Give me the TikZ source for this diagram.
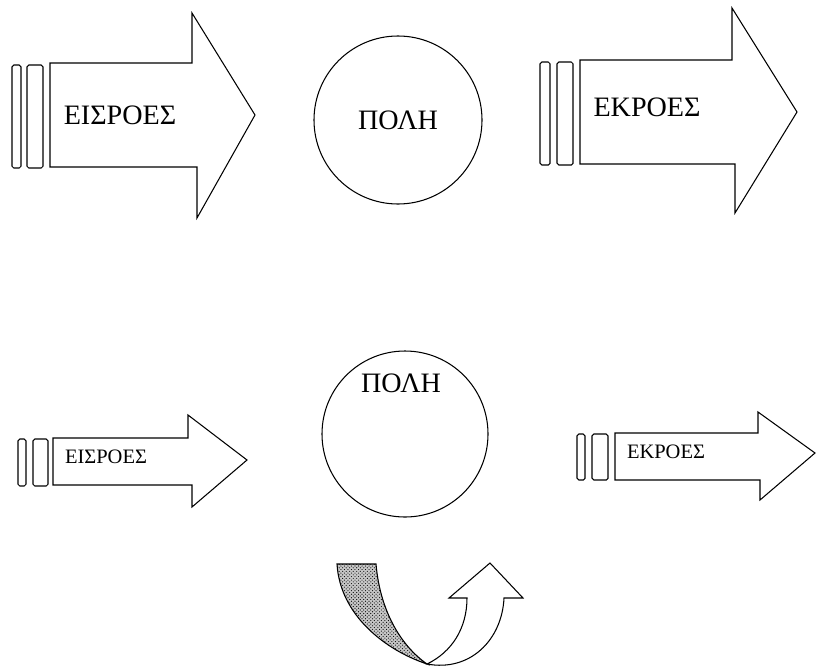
\documentclass[tikz,border=0pt]{standalone}
\usepackage{fontspec}
\setmainfont{Liberation Serif}
\usepackage{tikz}
\usetikzlibrary{patterns}

\tikzset{
    line/.style={draw, line width=0.9pt, line join=miter},
    bar/.style={draw, line width=0.9pt, rounded corners=1.5pt},
    city/.style={draw, line width=0.9pt, circle, inner sep=0pt},
    bigtext/.style={font=\fontsize{24}{28}\selectfont},
    smalltext/.style={font=\fontsize{17.5}{21}\selectfont}
}

\begin{document}
\begin{tikzpicture}[x=0.03cm, y=-0.03cm]
    \useasboundingbox (0,0) rectangle (816,668);

    % top row
    \draw[bar] (12,65) rectangle (21,168);
    \draw[bar] (27,65) rectangle (43,168);
    \draw[line] (50,63) -- (192,63) -- (192,13) -- (255,115) -- (197,218) -- (197,167) -- (50,167) -- cycle;
    \node[bigtext] (inflow1) at (120,115) {ΕΙΣΡΟΕΣ};

    \node[city, minimum size=5.04cm, bigtext] (city1) at (398,120) {ΠΟΛΗ};

    \draw[bar] (540,62) rectangle (550,165);
    \draw[bar] (557,62) rectangle (573,165);
    \draw[line] (580,60) -- (732,60) -- (732,8) -- (797,112) -- (735,213) -- (735,164) -- (580,164) -- cycle;
    \node[bigtext] (outflow1) at (647,107) {ΕΚΡΟΕΣ};

    % bottom row
    \draw[bar] (18,439) rectangle (26,486);
    \draw[bar] (33,439) rectangle (48,486);
    \draw[line] (53,438) -- (188,438) -- (188,415) -- (247,460) -- (192,507) -- (192,485) -- (53,485) -- cycle;
    \node[smalltext] (inflow2) at (106,457) {ΕΙΣΡΟΕΣ};

    \node[city, minimum size=4.98cm] (city2) at (405,434) {};
    \node[bigtext] (label2) at (401,383) {ΠΟΛΗ};

    \draw[bar] (577,434) rectangle (585,480);
    \draw[bar] (592,434) rectangle (608,480);
    \draw[line] (615,433) -- (758,433) -- (758,412) -- (815,453) -- (760,500) -- (760,480) -- (615,480) -- cycle;
    \node[smalltext] (outflow2) at (666,452) {ΕΚΡΟΕΣ};

    % recycling loop
    \draw[line, fill=black!22, postaction={pattern=crosshatch dots}] (337,564) -- (376,564)
        .. controls (380,610) and (400,645) .. (427,664)
        .. controls (385,650) and (340,615) .. (337,564) -- cycle;
    \draw[line, fill=white] (427,664) .. controls (452,652) and (467,628) .. (467,598) -- (449,598) -- (490,563)
        -- (523,598) -- (504,598) .. controls (502,640) and (470,672) .. (427,664) -- cycle;
\end{tikzpicture}
\end{document}
